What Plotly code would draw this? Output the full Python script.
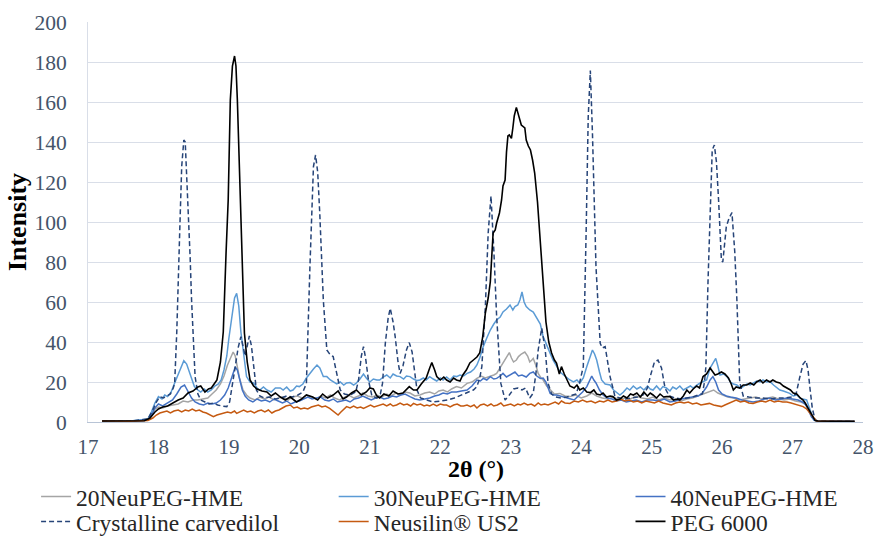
import plotly.graph_objects as go

# X-ray diffraction patterns, 2θ (°) vs intensity, as (2θ, intensity) pairs.

NEU20_HME = [
    (17.20, 0.5), (17.60, 0.4), (17.85, 1.0), (17.90, 3.5), (17.95, 6.5), (18.00, 7.5), (18.06, 7.0),
    (18.13, 8.0), (18.20, 8.5), (18.28, 9.0), (18.35, 10.5), (18.42, 10.0), (18.49, 11.0), (18.56, 11.0),
    (18.63, 11.5), (18.70, 12.0), (18.76, 14.0), (18.82, 16.0), (18.88, 19.0), (18.93, 23.0), (18.98, 28.5),
    (19.02, 32.0), (19.06, 35.0), (19.09, 33.0), (19.12, 28.0), (19.15, 22.0), (19.20, 16.0), (19.25, 13.5),
    (19.30, 12.0), (19.37, 11.0), (19.44, 12.5), (19.50, 11.5), (19.57, 12.5), (19.64, 11.0), (19.70, 12.0),
    (19.77, 12.5), (19.84, 11.0), (19.90, 12.5), (19.97, 13.0), (20.04, 12.0), (20.10, 13.5), (20.17, 12.5),
    (20.24, 11.5), (20.30, 13.0), (20.37, 12.0), (20.44, 13.5), (20.50, 12.0), (20.57, 11.0), (20.64, 12.5),
    (20.70, 13.5), (20.77, 12.0), (20.84, 13.0), (20.90, 14.5), (20.97, 13.0), (21.04, 12.5), (21.10, 13.5),
    (21.17, 12.5), (21.24, 14.0), (21.30, 13.0), (21.37, 14.5), (21.44, 13.5), (21.50, 15.0), (21.57, 14.5),
    (21.64, 13.0), (21.71, 13.5), (21.78, 14.5), (21.85, 15.0), (21.92, 14.0), (21.98, 15.5), (22.04, 16.0),
    (22.10, 15.0), (22.16, 16.5), (22.23, 17.7), (22.30, 17.0), (22.38, 19.3), (22.45, 20.0), (22.52, 21.8),
    (22.58, 23.0), (22.64, 22.0), (22.71, 22.7), (22.76, 23.5), (22.80, 24.3), (22.85, 27.0), (22.89, 29.3),
    (22.94, 32.0), (22.98, 34.7), (23.01, 32.0), (23.04, 30.0), (23.08, 31.0), (23.11, 32.7), (23.15, 34.0),
    (23.20, 35.0), (23.24, 33.0), (23.27, 30.0), (23.30, 31.0), (23.32, 31.8), (23.36, 28.0), (23.39, 24.3),
    (23.43, 22.0), (23.46, 21.0), (23.51, 18.0), (23.56, 16.0), (23.62, 14.0), (23.70, 14.3), (23.77, 13.0),
    (23.84, 12.7), (23.92, 13.5), (24.00, 12.0), (24.08, 13.0), (24.15, 14.5), (24.22, 13.0), (24.30, 12.0),
    (24.38, 11.5), (24.46, 12.5), (24.54, 11.0), (24.62, 12.0), (24.70, 11.5), (24.78, 13.0), (24.86, 12.0),
    (24.94, 11.5), (25.02, 12.5), (25.10, 11.0), (25.18, 12.0), (25.26, 11.0), (25.34, 11.5), (25.42, 10.5),
    (25.50, 11.5), (25.58, 12.0), (25.66, 13.0), (25.74, 14.0), (25.82, 15.0), (25.88, 16.0), (25.94, 14.5),
    (26.00, 13.5), (26.08, 12.5), (26.16, 12.0), (26.24, 11.0), (26.32, 11.5), (26.40, 12.0), (26.48, 12.5),
    (26.56, 11.5), (26.64, 12.0), (26.72, 12.5), (26.80, 11.5), (26.88, 11.0), (26.96, 11.5), (27.04, 10.5),
    (27.12, 10.0), (27.18, 9.0), (27.23, 6.0), (27.27, 3.0), (27.31, 1.0), (27.36, 0.5), (27.55, 0.4),
    (27.88, 0.3),
]

NEU30_HME = [
    (17.20, 0.5), (17.60, 0.5), (17.85, 1.5), (17.90, 5.0), (17.95, 9.5), (18.00, 12.7), (18.05, 11.5),
    (18.09, 13.5), (18.13, 12.7), (18.18, 15.0), (18.23, 19.5), (18.28, 24.0), (18.32, 27.7), (18.36, 30.7),
    (18.40, 29.0), (18.44, 25.0), (18.48, 20.0), (18.51, 17.7), (18.56, 16.0), (18.60, 15.0), (18.65, 16.5),
    (18.70, 15.0), (18.75, 16.0), (18.80, 18.0), (18.85, 19.0), (18.89, 21.0), (18.93, 26.0), (18.97, 33.0),
    (19.00, 42.0), (19.03, 50.0), (19.06, 57.0), (19.08, 62.0), (19.11, 64.3), (19.14, 58.0), (19.17, 45.0),
    (19.20, 36.0), (19.25, 22.7), (19.30, 20.0), (19.35, 19.5), (19.40, 17.0), (19.44, 16.0), (19.49, 17.5),
    (19.54, 16.0), (19.60, 15.0), (19.66, 17.0), (19.73, 17.0), (19.77, 16.0), (19.82, 17.5), (19.87, 15.5),
    (19.91, 16.0), (19.96, 18.0), (20.00, 17.7), (20.05, 19.0), (20.10, 22.0), (20.15, 24.5), (20.20, 26.5),
    (20.25, 28.5), (20.29, 27.0), (20.34, 22.7), (20.39, 22.7), (20.44, 21.0), (20.48, 20.0), (20.53, 19.0),
    (20.58, 20.0), (20.63, 18.5), (20.67, 19.5), (20.72, 19.7), (20.77, 18.5), (20.81, 19.5), (20.86, 21.5),
    (20.91, 24.0), (20.95, 22.0), (21.00, 20.0), (21.05, 21.5), (21.10, 21.0), (21.14, 21.0), (21.19, 22.5),
    (21.24, 23.5), (21.29, 22.0), (21.33, 24.0), (21.38, 23.0), (21.43, 22.7), (21.48, 21.5), (21.52, 23.0),
    (21.57, 22.7), (21.62, 21.5), (21.67, 20.7), (21.71, 21.0), (21.76, 22.0), (21.80, 21.0), (21.85, 22.7),
    (21.90, 21.5), (21.95, 20.5), (22.00, 22.0), (22.04, 21.0), (22.09, 22.5), (22.14, 21.0), (22.19, 23.0),
    (22.23, 22.7), (22.28, 23.5), (22.33, 23.0), (22.38, 24.3), (22.43, 25.0), (22.48, 26.5), (22.52, 28.5),
    (22.56, 32.0), (22.61, 37.7), (22.66, 42.0), (22.71, 46.0), (22.76, 49.0), (22.80, 51.0), (22.85, 52.5),
    (22.89, 55.0), (22.94, 56.5), (22.99, 58.5), (23.03, 56.0), (23.06, 57.7), (23.10, 58.5), (23.13, 61.0),
    (23.16, 65.0), (23.19, 60.0), (23.22, 57.7), (23.27, 56.0), (23.32, 55.0), (23.37, 52.0), (23.42, 49.0),
    (23.46, 42.7), (23.51, 38.0), (23.56, 34.3), (23.60, 31.0), (23.65, 27.7), (23.70, 25.0), (23.75, 23.5),
    (23.80, 22.0), (23.84, 21.0), (23.89, 20.0), (23.94, 21.0), (23.98, 19.5), (24.03, 22.0), (24.08, 27.7),
    (24.12, 32.0), (24.16, 36.0), (24.19, 34.0), (24.22, 31.0), (24.26, 25.0), (24.29, 21.0), (24.34, 19.0),
    (24.41, 18.5), (24.46, 16.0), (24.50, 15.0), (24.55, 13.5), (24.60, 15.0), (24.65, 17.0), (24.69, 16.0),
    (24.74, 18.0), (24.79, 16.5), (24.84, 17.5), (24.89, 16.0), (24.94, 18.0), (24.98, 16.5), (25.02, 16.0),
    (25.07, 18.0), (25.12, 16.0), (25.16, 17.7), (25.21, 17.0), (25.26, 15.5), (25.30, 17.5), (25.35, 16.5),
    (25.40, 18.0), (25.45, 16.0), (25.50, 16.8), (25.55, 18.0), (25.59, 17.0), (25.64, 18.5), (25.69, 19.5),
    (25.73, 20.0), (25.78, 21.0), (25.83, 27.0), (25.88, 30.0), (25.91, 31.8), (25.94, 28.0), (25.97, 23.5),
    (26.02, 24.0), (26.07, 22.7), (26.12, 20.0), (26.16, 19.0), (26.21, 18.5), (26.26, 17.0), (26.30, 17.7),
    (26.35, 19.0), (26.40, 18.5), (26.44, 19.3), (26.49, 20.5), (26.54, 20.0), (26.58, 21.0), (26.63, 20.0),
    (26.68, 20.2), (26.73, 18.5), (26.77, 17.5), (26.82, 16.0), (26.87, 15.5), (26.92, 15.0), (26.96, 14.3),
    (27.01, 13.0), (27.06, 13.5), (27.11, 11.8), (27.16, 11.5), (27.20, 11.0), (27.23, 8.0), (27.26, 4.5),
    (27.30, 1.0), (27.35, 0.5), (27.50, 0.4), (27.70, 0.4), (27.88, 0.3),
]

NEU40_HME = [
    (17.20, 0.5), (17.60, 0.4), (17.85, 1.0), (17.90, 3.5), (17.95, 7.0), (18.00, 9.0), (18.06, 8.0),
    (18.13, 9.5), (18.20, 11.0), (18.26, 14.0), (18.32, 17.5), (18.37, 18.5), (18.42, 15.0), (18.47, 12.0),
    (18.52, 10.0), (18.58, 9.0), (18.64, 8.5), (18.70, 9.5), (18.76, 9.0), (18.82, 9.5), (18.88, 11.0),
    (18.94, 13.5), (18.99, 17.0), (19.03, 21.0), (19.06, 24.0), (19.09, 27.5), (19.12, 26.0), (19.15, 22.0),
    (19.19, 16.0), (19.23, 13.0), (19.28, 11.0), (19.34, 10.0), (19.40, 11.5), (19.46, 10.5), (19.52, 11.0),
    (19.58, 10.0), (19.64, 11.5), (19.70, 10.5), (19.76, 9.5), (19.82, 10.5), (19.88, 9.0), (19.94, 10.0),
    (20.00, 10.5), (20.06, 11.5), (20.12, 12.5), (20.18, 11.5), (20.24, 12.0), (20.30, 12.5), (20.36, 11.0),
    (20.42, 10.5), (20.48, 11.5), (20.54, 10.0), (20.60, 10.5), (20.66, 11.0), (20.72, 10.0), (20.78, 11.5),
    (20.84, 12.0), (20.90, 13.0), (20.96, 12.0), (21.02, 11.0), (21.08, 12.0), (21.14, 12.5), (21.20, 11.5),
    (21.26, 12.0), (21.32, 13.0), (21.38, 12.5), (21.44, 13.5), (21.50, 14.0), (21.57, 12.7), (21.64, 11.5),
    (21.71, 11.0), (21.78, 11.5), (21.85, 12.0), (21.92, 13.0), (21.98, 13.5), (22.04, 14.5), (22.10, 14.0),
    (22.16, 15.0), (22.23, 15.0), (22.30, 15.5), (22.38, 16.0), (22.45, 18.0), (22.52, 21.0), (22.57, 20.5),
    (22.61, 21.8), (22.66, 21.0), (22.71, 22.7), (22.76, 21.5), (22.80, 21.8), (22.85, 23.0), (22.89, 24.3),
    (22.94, 22.5), (22.99, 23.5), (23.03, 24.0), (23.06, 25.0), (23.11, 23.0), (23.16, 23.5), (23.22, 22.5),
    (23.27, 24.3), (23.32, 25.0), (23.37, 23.0), (23.42, 21.8), (23.46, 22.0), (23.50, 20.0), (23.53, 17.0),
    (23.56, 14.3), (23.61, 13.5), (23.65, 13.5), (23.70, 13.0), (23.75, 12.5), (23.82, 11.5), (23.90, 11.0),
    (23.96, 13.0), (24.02, 15.0), (24.08, 17.7), (24.12, 20.5), (24.15, 23.0), (24.18, 21.0), (24.21, 19.5),
    (24.26, 16.0), (24.31, 13.5), (24.37, 12.0), (24.44, 11.5), (24.50, 10.5), (24.57, 11.0), (24.64, 10.0),
    (24.70, 10.5), (24.78, 11.0), (24.86, 10.0), (24.94, 11.0), (25.02, 11.0), (25.10, 10.5), (25.18, 11.5),
    (25.26, 10.0), (25.34, 10.5), (25.42, 11.5), (25.50, 12.0), (25.58, 12.5), (25.66, 13.0), (25.72, 14.5),
    (25.78, 17.5), (25.83, 21.0), (25.87, 22.7), (25.91, 20.0), (25.95, 16.0), (26.00, 14.0), (26.06, 13.0),
    (26.12, 12.5), (26.20, 12.0), (26.28, 11.0), (26.36, 10.5), (26.44, 10.0), (26.52, 10.5), (26.60, 11.5),
    (26.68, 12.0), (26.76, 11.0), (26.84, 11.5), (26.92, 12.0), (27.00, 11.5), (27.08, 11.0), (27.14, 10.0),
    (27.19, 8.5), (27.23, 5.5), (27.27, 2.5), (27.31, 1.0), (27.36, 0.5), (27.55, 0.4), (27.88, 0.3),
]

CARVEDILOL = [
    (17.20, 0.5), (17.60, 0.4), (17.85, 1.5), (17.92, 6.0), (17.97, 10.0), (18.02, 12.7), (18.07, 12.0),
    (18.12, 13.0), (18.17, 14.0), (18.21, 17.0), (18.23, 19.3), (18.26, 45.0), (18.28, 74.3), (18.31, 105.0),
    (18.33, 127.7), (18.36, 141.0), (18.38, 140.0), (18.40, 125.0), (18.42, 107.7), (18.45, 82.0),
    (18.47, 61.0), (18.50, 38.0), (18.52, 22.7), (18.56, 14.0), (18.60, 11.0), (18.66, 10.0), (18.72, 9.0),
    (18.78, 9.5), (18.84, 8.5), (18.90, 8.0), (18.97, 7.7), (19.01, 10.0), (19.05, 18.0), (19.09, 27.7),
    (19.13, 37.0), (19.17, 42.7), (19.20, 38.0), (19.23, 33.0), (19.26, 38.0), (19.29, 43.0), (19.32, 38.0),
    (19.35, 27.7), (19.39, 16.0), (19.44, 13.0), (19.50, 12.0), (19.58, 12.5), (19.66, 11.5), (19.74, 12.0),
    (19.82, 13.0), (19.90, 12.5), (19.98, 13.5), (20.05, 15.0), (20.10, 19.3), (20.15, 77.7), (20.20, 127.7),
    (20.23, 133.5), (20.26, 125.0), (20.29, 104.0), (20.34, 61.0), (20.39, 36.0), (20.44, 33.5),
    (20.48, 32.7), (20.53, 24.0), (20.58, 16.0), (20.64, 14.0), (20.72, 13.5), (20.80, 15.0), (20.84, 21.0),
    (20.88, 33.0), (20.91, 37.7), (20.94, 32.0), (20.98, 21.0), (21.03, 13.0), (21.10, 12.0), (21.15, 14.0),
    (21.18, 19.3), (21.22, 39.3), (21.26, 52.0), (21.29, 56.8), (21.33, 50.0), (21.36, 42.7), (21.40, 30.0),
    (21.43, 24.3), (21.47, 28.0), (21.52, 36.0), (21.56, 39.7), (21.60, 35.0), (21.63, 27.7), (21.67, 16.0),
    (21.72, 12.0), (21.80, 11.0), (21.90, 10.0), (22.00, 10.5), (22.10, 11.0), (22.20, 12.0), (22.30, 13.5),
    (22.40, 15.0), (22.47, 16.0), (22.52, 17.7), (22.56, 22.0), (22.59, 27.7), (22.64, 57.7), (22.68, 94.5),
    (22.72, 113.0), (22.76, 86.0), (22.80, 52.7), (22.86, 19.3), (22.92, 11.0), (22.98, 13.5), (23.04, 16.5),
    (23.10, 17.0), (23.16, 16.0), (23.21, 17.0), (23.27, 12.0), (23.32, 14.5), (23.36, 25.0), (23.39, 36.0),
    (23.44, 47.0), (23.49, 36.0), (23.53, 19.3), (23.58, 14.0), (23.64, 12.5), (23.72, 12.0), (23.80, 12.5),
    (23.88, 13.5), (23.93, 14.0), (23.98, 20.0), (24.03, 27.7), (24.07, 94.5), (24.10, 152.7), (24.13, 175.7),
    (24.16, 144.5), (24.21, 77.7), (24.27, 39.3), (24.30, 37.0), (24.34, 37.7), (24.41, 22.7), (24.48, 12.7),
    (24.55, 12.0), (24.63, 11.5), (24.72, 12.0), (24.80, 12.5), (24.88, 13.5), (24.94, 17.0), (24.99, 24.0),
    (25.04, 30.0), (25.09, 31.0), (25.14, 27.0), (25.19, 17.0), (25.25, 13.0), (25.33, 12.0), (25.42, 11.5),
    (25.50, 12.0), (25.58, 12.5), (25.66, 13.5), (25.72, 14.0), (25.75, 20.0), (25.77, 27.7), (25.80, 70.0),
    (25.82, 94.5), (25.86, 136.0), (25.89, 138.5), (25.92, 130.0), (25.95, 111.0), (25.99, 81.0),
    (26.01, 80.0), (26.06, 97.7), (26.10, 102.0), (26.14, 104.7), (26.18, 85.0), (26.21, 61.0),
    (26.25, 20.0), (26.30, 13.0), (26.38, 12.5), (26.48, 12.0), (26.58, 12.0), (26.68, 11.5), (26.78, 12.0),
    (26.88, 12.0), (26.98, 12.5), (27.05, 14.0), (27.10, 22.0), (27.15, 29.0), (27.19, 30.7), (27.22, 26.0),
    (27.25, 16.0), (27.28, 7.0), (27.32, 1.0), (27.36, 0.5), (27.55, 0.4), (27.88, 0.3),
]

NEUSILIN_US2 = [
    (17.20, 0.5), (17.60, 0.4), (17.85, 0.8), (17.92, 2.0), (17.97, 3.5), (18.02, 4.5), (18.07, 5.0),
    (18.12, 5.5), (18.17, 4.5), (18.22, 5.5), (18.28, 6.0), (18.33, 5.0), (18.38, 6.0), (18.43, 5.5),
    (18.48, 6.5), (18.53, 5.5), (18.58, 6.0), (18.63, 5.0), (18.68, 4.5), (18.73, 3.5), (18.78, 2.7),
    (18.83, 3.5), (18.88, 4.0), (18.93, 4.5), (18.98, 5.0), (19.03, 4.5), (19.08, 5.5), (19.11, 4.3),
    (19.16, 5.0), (19.21, 6.0), (19.26, 5.0), (19.31, 5.5), (19.36, 4.5), (19.41, 5.5), (19.46, 6.0),
    (19.51, 5.0), (19.56, 6.0), (19.61, 4.5), (19.66, 5.5), (19.71, 6.0), (19.76, 7.0), (19.81, 8.0),
    (19.87, 8.5), (19.92, 7.0), (19.97, 7.5), (20.02, 6.5), (20.07, 7.0), (20.12, 6.5), (20.17, 7.5),
    (20.22, 8.0), (20.27, 8.5), (20.32, 7.5), (20.37, 8.0), (20.43, 6.8), (20.48, 5.5), (20.52, 4.5),
    (20.55, 3.5), (20.59, 5.0), (20.63, 6.5), (20.67, 7.7), (20.72, 7.0), (20.77, 8.0), (20.82, 7.0),
    (20.87, 7.5), (20.91, 6.8), (20.96, 7.5), (21.01, 8.5), (21.06, 7.5), (21.10, 8.0), (21.14, 8.5),
    (21.19, 9.0), (21.24, 8.0), (21.29, 9.0), (21.33, 8.0), (21.38, 8.5), (21.43, 9.5), (21.48, 8.5),
    (21.53, 9.0), (21.58, 8.0), (21.62, 9.3), (21.67, 8.5), (21.72, 9.0), (21.77, 8.0), (21.81, 8.5),
    (21.85, 8.0), (21.90, 9.0), (21.95, 8.0), (22.00, 9.0), (22.05, 8.5), (22.09, 8.5), (22.14, 7.5),
    (22.19, 8.5), (22.24, 9.0), (22.29, 8.0), (22.33, 8.0), (22.38, 8.5), (22.43, 7.7), (22.48, 8.5),
    (22.52, 7.0), (22.57, 8.5), (22.62, 9.0), (22.67, 8.0), (22.72, 9.0), (22.76, 8.0), (22.81, 8.5),
    (22.86, 9.5), (22.90, 8.0), (22.95, 8.5), (23.00, 9.0), (23.05, 8.0), (23.10, 9.0), (23.14, 8.5),
    (23.19, 9.5), (23.24, 8.5), (23.29, 9.0), (23.34, 8.0), (23.39, 9.5), (23.43, 8.5), (23.48, 9.0),
    (23.53, 8.5), (23.58, 9.3), (23.63, 10.0), (23.68, 9.0), (23.72, 10.5), (23.77, 9.5), (23.84, 9.3),
    (23.90, 10.5), (23.96, 10.0), (24.02, 11.0), (24.08, 10.0), (24.14, 10.5), (24.20, 9.5), (24.26, 10.5),
    (24.32, 10.0), (24.38, 11.0), (24.44, 10.0), (24.50, 10.5), (24.56, 11.5), (24.62, 10.5), (24.68, 11.0),
    (24.74, 10.0), (24.80, 10.5), (24.86, 9.5), (24.92, 10.5), (24.98, 10.0), (25.04, 9.5), (25.10, 10.5),
    (25.16, 9.5), (25.22, 9.0), (25.28, 8.5), (25.34, 9.5), (25.40, 10.0), (25.46, 9.5), (25.52, 10.0),
    (25.58, 9.0), (25.64, 9.5), (25.70, 8.5), (25.76, 9.0), (25.82, 9.3), (25.88, 8.5), (25.94, 8.0),
    (25.99, 7.7), (26.04, 8.5), (26.10, 9.5), (26.16, 10.5), (26.20, 11.0), (26.26, 10.0), (26.32, 10.5),
    (26.38, 9.5), (26.44, 9.3), (26.50, 10.0), (26.56, 10.5), (26.62, 10.0), (26.68, 11.0), (26.74, 10.0),
    (26.80, 10.5), (26.86, 10.0), (26.92, 10.0), (26.98, 9.5), (27.04, 9.0), (27.10, 8.5), (27.15, 7.7),
    (27.20, 6.5), (27.25, 4.3), (27.30, 2.0), (27.34, 0.5), (27.50, 0.4), (27.70, 0.5), (27.88, 0.3),
]

PEG_6000 = [
    (17.20, 0.5), (17.50, 0.4), (17.80, 0.6), (17.88, 2.0), (17.95, 5.0), (18.00, 6.5), (18.06, 7.5),
    (18.13, 8.0), (18.20, 9.5), (18.28, 11.0), (18.35, 12.0), (18.42, 14.5), (18.49, 15.5), (18.56, 17.5),
    (18.60, 18.0), (18.66, 15.0), (18.71, 16.5), (18.75, 17.0), (18.79, 19.0), (18.83, 21.0), (18.88, 30.0),
    (18.92, 45.0), (18.96, 85.0), (18.99, 111.0), (19.02, 161.0), (19.05, 178.0), (19.08, 183.0),
    (19.10, 178.0), (19.12, 161.0), (19.14, 135.0), (19.16, 111.0), (19.19, 70.0), (19.22, 44.5),
    (19.26, 30.0), (19.30, 21.0), (19.35, 18.0), (19.40, 16.5), (19.47, 15.5), (19.54, 15.0), (19.60, 13.0),
    (19.66, 14.5), (19.73, 12.5), (19.80, 11.0), (19.87, 12.5), (19.96, 10.0), (20.03, 11.5), (20.10, 13.5),
    (20.19, 12.5), (20.26, 11.0), (20.33, 14.0), (20.40, 12.0), (20.48, 13.5), (20.55, 15.5), (20.62, 11.5),
    (20.67, 12.5), (20.74, 14.5), (20.81, 16.0), (20.88, 13.5), (20.95, 15.0), (21.00, 17.0), (21.05, 16.5),
    (21.10, 13.0), (21.14, 12.0), (21.20, 14.0), (21.27, 13.0), (21.33, 15.5), (21.40, 14.0), (21.47, 14.5),
    (21.52, 16.5), (21.56, 17.7), (21.62, 16.0), (21.67, 16.0), (21.73, 19.0), (21.80, 22.0), (21.85, 27.0),
    (21.88, 29.7), (21.92, 26.0), (21.95, 22.7), (22.00, 21.0), (22.05, 22.5), (22.09, 21.0), (22.14, 20.0),
    (22.19, 22.0), (22.23, 21.0), (22.28, 20.5), (22.32, 23.5), (22.37, 26.0), (22.42, 29.5), (22.47, 31.0),
    (22.52, 32.5), (22.56, 34.5), (22.60, 42.0), (22.64, 54.5), (22.68, 62.0), (22.71, 70.0), (22.75, 94.5),
    (22.78, 96.0), (22.80, 99.5), (22.84, 104.5), (22.87, 111.0), (22.89, 118.0), (22.92, 121.0),
    (22.94, 135.0), (22.96, 143.0), (22.98, 143.5), (23.01, 141.8), (23.03, 147.0), (23.05, 153.0),
    (23.08, 157.3), (23.11, 153.0), (23.15, 148.5), (23.20, 147.0), (23.22, 141.0), (23.25, 138.0),
    (23.28, 136.0), (23.31, 131.0), (23.34, 124.5), (23.38, 110.0), (23.42, 90.0), (23.46, 71.0),
    (23.50, 50.0), (23.54, 40.0), (23.58, 34.5), (23.62, 31.0), (23.65, 29.5), (23.69, 24.0), (23.72, 27.7),
    (23.76, 24.0), (23.79, 22.0), (23.84, 18.0), (23.90, 17.0), (23.94, 18.5), (23.98, 16.0), (24.03, 17.0),
    (24.08, 15.0), (24.13, 14.7), (24.18, 16.0), (24.22, 14.0), (24.27, 13.5), (24.31, 14.5), (24.36, 12.5),
    (24.41, 13.0), (24.45, 12.7), (24.50, 11.0), (24.55, 11.5), (24.60, 13.0), (24.65, 12.0), (24.70, 14.0),
    (24.74, 13.5), (24.79, 14.5), (24.84, 12.5), (24.89, 15.0), (24.94, 13.0), (24.98, 14.5), (25.02, 13.5),
    (25.07, 12.0), (25.12, 14.0), (25.17, 12.5), (25.21, 12.7), (25.26, 12.7), (25.31, 11.0), (25.37, 11.5),
    (25.40, 11.0), (25.45, 13.0), (25.50, 16.0), (25.54, 14.5), (25.59, 16.5), (25.64, 18.0), (25.68, 17.0),
    (25.73, 22.7), (25.78, 24.0), (25.83, 27.0), (25.87, 25.0), (25.90, 23.5), (25.94, 24.0), (25.99, 25.0),
    (26.04, 24.0), (26.09, 22.0), (26.13, 19.0), (26.16, 16.0), (26.20, 17.5), (26.25, 17.0), (26.30, 18.5),
    (26.35, 18.5), (26.40, 19.5), (26.45, 18.5), (26.49, 20.0), (26.54, 21.0), (26.58, 19.5), (26.63, 21.0),
    (26.68, 20.0), (26.72, 21.0), (26.77, 20.0), (26.82, 19.5), (26.87, 18.0), (26.92, 17.0), (26.97, 16.0),
    (27.01, 14.5), (27.06, 14.0), (27.11, 12.0), (27.15, 11.0), (27.18, 9.5), (27.22, 7.0), (27.25, 4.5),
    (27.29, 2.0), (27.32, 0.7), (27.36, 0.5), (27.45, 0.4), (27.60, 0.5), (27.75, 0.3), (27.88, 0.3),
]

SERIES_NAMES = ["20NeuPEG-HME", "30NeuPEG-HME", "40NeuPEG-HME",
                "Crystalline carvedilol", "Neusilin® US2", "PEG 6000"]
SERIES_DATA = [NEU20_HME, NEU30_HME, NEU40_HME, CARVEDILOL, NEUSILIN_US2, PEG_6000]
SERIES_STYLE = [
    dict(color="#A5A5A5", width=1.5),
    dict(color="#5B9BD5", width=1.5),
    dict(color="#4472C4", width=1.5),
    dict(color="#264478", width=1.5, dash="5px,3px"),
    dict(color="#C55A11", width=1.5),
    dict(color="#000000", width=1.6),
]

X_TICKS = list(range(17, 29))
Y_TICKS = list(range(0, 201, 20))

FONT = "Liberation Serif"
TICK_SIZE = 21
TITLE_SIZE = 24
LEGEND_SIZE = 23.5

# legend grid: three columns, two rows (paper coordinates of each entry box)
LEGEND_COLS = [-0.067, 0.317, 0.700]
LEGEND_ROWS = [-0.132, -0.194]

fig = go.Figure()
legend_layout = {}
for i, (name, pts, style) in enumerate(zip(SERIES_NAMES, SERIES_DATA, SERIES_STYLE)):
    key = "legend" if i == 0 else f"legend{i + 1}"
    fig.add_trace(go.Scatter(
        x=[p[0] for p in pts],
        y=[p[1] for p in pts],
        mode="lines",
        name=name,
        line=style,
        legend=key,
    ))
    legend_layout[key] = dict(
        orientation="v",
        x=LEGEND_COLS[i % 3], xanchor="left",
        y=LEGEND_ROWS[i // 3], yanchor="top",
        font=dict(family=FONT, size=LEGEND_SIZE, color="#262626"),
        bgcolor="rgba(0,0,0,0)",
    )

fig.update_layout(
    width=875,
    height=536,
    margin=dict(l=88, r=12, t=22, b=114, autoexpand=False),
    paper_bgcolor="white",
    plot_bgcolor="white",
    font=dict(family=FONT, size=TICK_SIZE, color="#44546A"),
    showlegend=True,
    **legend_layout,
)

# x-axis title placed just under the tick labels
fig.add_annotation(
    text="<b>2θ (°)</b>",
    xref="paper", yref="paper",
    x=0.5, y=-0.1175, xanchor="center", yanchor="middle",
    showarrow=False,
    font=dict(family=FONT, size=TITLE_SIZE, color="#000000"),
)

fig.update_xaxes(
    range=[17, 28],
    tickvals=X_TICKS,
    showgrid=False,
    showline=True, linecolor="#B8C4D6", linewidth=1,
    zeroline=False,
    ticks="",
    ticklabelstandoff=6,
    automargin=False,
    tickfont=dict(family=FONT, size=TICK_SIZE, color="#44546A"),
)
fig.update_yaxes(
    range=[0, 200],
    tickvals=Y_TICKS,
    showgrid=True, gridcolor="#D9DEE8", gridwidth=1,
    showline=True, linecolor="#D9DEE8", linewidth=1,
    zeroline=False,
    ticks="",
    ticklabelstandoff=16,
    automargin=False,
    tickfont=dict(family=FONT, size=TICK_SIZE + 0.5, color="#44546A"),
    title=dict(text="<b>Intensity</b>", font=dict(family=FONT, size=26, color="#000000"),
               standoff=0),
)

fig.write_html("out.html")
